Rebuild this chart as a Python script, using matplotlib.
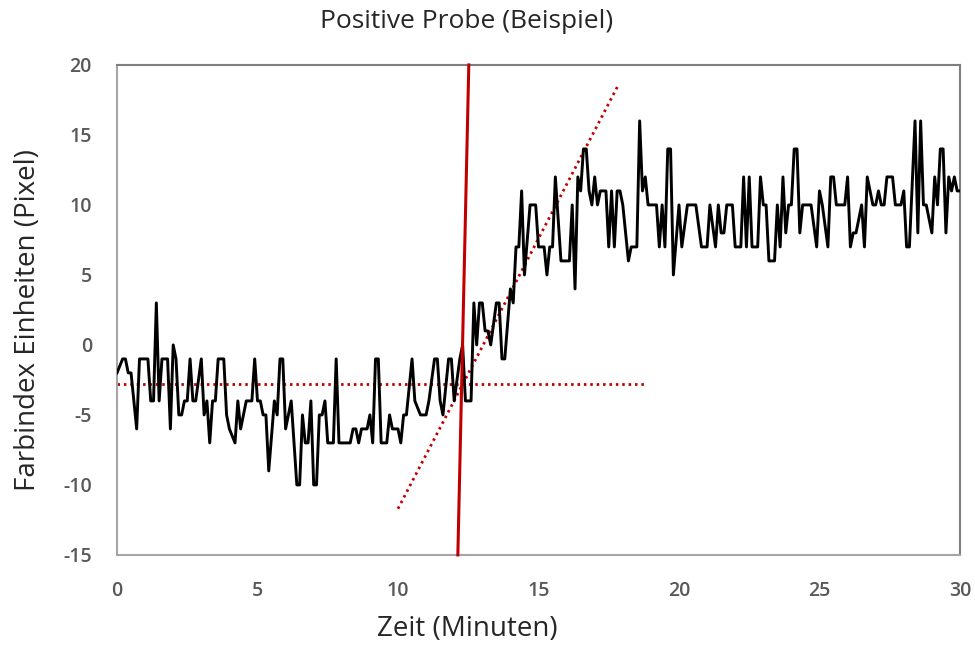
import numpy as np
import matplotlib
matplotlib.use('Agg')
import matplotlib.pyplot as plt

plt.rcParams['font.family'] = ['Open Sans', 'DejaVu Sans']
plt.rcParams['axes.unicode_minus'] = False

zeit = [0.0, 0.2, 0.3, 0.4, 0.5, 0.7, 0.8, 1.1, 1.2, 1.3, 1.4, 1.5, 1.6, 1.8, 1.9, 2.0, 2.1, 2.2, 2.3,
        2.4, 2.5, 2.6, 2.7, 2.8, 3.0, 3.1, 3.2, 3.3, 3.4, 3.5, 3.6, 3.8, 3.9, 4.0, 4.2, 4.3, 4.4, 4.6,
        4.8, 4.9, 5.0,
        5.1, 5.2, 5.3, 5.4, 5.6, 5.7, 5.8, 5.9, 6.0, 6.2, 6.4, 6.5, 6.6, 6.7, 6.8, 6.9, 7.0, 7.1, 7.2,
        7.3, 7.4, 7.5, 7.7, 7.8, 7.9, 8.1, 8.3, 8.4, 8.5, 8.6, 8.7, 8.9, 9.0, 9.1, 9.2, 9.3, 9.4, 9.6,
        9.7, 9.8, 10.0, 10.1,
        10.2, 10.3, 10.5, 10.6, 10.8, 11.0, 11.1, 11.3, 11.4, 11.5, 11.6, 11.8, 11.9, 12.0, 12.2, 12.3,
        12.4, 12.6, 12.7, 12.8, 12.9, 13.0, 13.1, 13.2, 13.3, 13.5, 13.6, 13.7, 13.8, 14.0, 14.1, 14.2,
        14.3, 14.4, 14.5, 14.7, 14.9, 15.0,
        15.1, 15.2, 15.3, 15.4, 15.5, 15.6, 15.8, 15.9, 16.1, 16.2, 16.3, 16.4, 16.5, 16.6, 16.7, 16.8,
        16.9, 17.0, 17.1, 17.2, 17.3, 17.4, 17.5, 17.6, 17.7, 17.8, 17.9, 18.0, 18.2, 18.3, 18.5, 18.6,
        18.7, 18.8, 18.9, 19.2, 19.3, 19.4, 19.5, 19.6, 19.7, 19.8, 20.0,
        20.1, 20.3, 20.6, 20.8, 21.0, 21.1, 21.3, 21.4, 21.5, 21.6, 21.7, 21.9, 22.0, 22.2, 22.3, 22.4,
        22.5, 22.6, 22.8, 22.9, 23.0, 23.1, 23.2, 23.4, 23.5, 23.6, 23.7, 23.8, 23.9, 24.0, 24.1, 24.2,
        24.3, 24.4, 24.7, 24.9, 25.0,
        25.1, 25.3, 25.4, 25.5, 25.6, 25.9, 26.0, 26.1, 26.2, 26.3, 26.5, 26.6, 26.7, 26.9, 27.0, 27.1,
        27.2, 27.3, 27.4, 27.6, 27.7, 27.9, 28.0, 28.1, 28.2, 28.4, 28.5, 28.6, 28.7, 28.8, 29.0, 29.1,
        29.2, 29.3, 29.4, 29.5, 29.6, 29.7, 29.8, 29.9, 30.0]
farbindex = [-2, -1, -1, -2, -2, -6, -1, -1, -4, -4, 3, -4, -1, -1, -6, 0, -1, -5, -5,
             -4, -4, -1, -4, -4, -1, -5, -4, -7, -4, -4, -1, -1, -5, -6, -7, -4, -6, -4,
             -4, -1, -4,
             -4, -5, -5, -9, -4, -5, -1, -1, -6, -4, -10, -10, -5, -7, -7, -4, -10, -10, -5,
             -5, -4, -7, -7, -1, -7, -7, -7, -6, -6, -7, -6, -6, -5, -7, -1, -1, -7, -7,
             -5, -6, -6, -7,
             -5, -5, -1, -4, -5, -5, -4, -1, -1, -4, -5, -1, -1, -4, -1, 0,
             -4, -4, 3, 0, 3, 3, 1, 1, 0, 3, 3, -1, -1, 4, 3, 7,
             7, 11, 5, 10, 10, 7,
             7, 7, 5, 7, 7, 12, 6, 6, 6, 10, 4, 12, 11, 14, 14, 11,
             10, 12, 10, 11, 11, 11, 7, 11, 7, 11, 11, 10, 6, 7, 7, 16,
             11, 12, 10, 10, 7, 10, 7, 14, 14, 5, 10,
             7, 10, 10, 7, 7, 10, 7, 10, 8, 8, 10, 10, 7, 7, 12, 7,
             12, 7, 7, 12, 10, 10, 6, 6, 10, 7, 12, 8, 10, 10, 14, 14,
             8, 10, 10, 7, 11,
             10, 7, 12, 12, 10, 10, 12, 7, 8, 8, 10, 7, 12, 10, 10, 11,
             10, 10, 12, 12, 10, 10, 11, 7, 7, 16, 8, 16, 10, 10, 8, 12,
             10, 14, 14, 8, 12, 11, 12, 11, 11]

# Hilfslinien
basis_x = [0, 18.8]
basis_y = [-2.8, -2.8]
steigung_x = [10.0, 17.85]
steigung_y = [-11.7, 18.6]
schnitt_x = [12.13, 12.52]
schnitt_y = [-15, 20]

rot = '#C00000'
fig = plt.figure(figsize=(9.75, 6.46), dpi=100)
ax = fig.add_axes([0.12, 0.141, 0.8646, 0.7585])

ax.plot(zeit, farbindex, color='black', lw=2.1, zorder=3)
ax.plot(basis_x, basis_y, color=rot, lw=2, ls=(0, (0.9, 1.4)), zorder=2)
ax.plot(steigung_x, steigung_y, color=rot, lw=2, ls=(0, (0.9, 1.4)), zorder=2)
ax.plot(schnitt_x, schnitt_y, color=rot, lw=2.2, zorder=4, clip_on=False)

ax.set_xlim(0, 30)
ax.set_ylim(-15, 20)
ax.set_xticks(np.arange(0, 31, 5))
ax.set_yticks(np.arange(-15, 21, 5))
ax.tick_params(length=0, labelsize=14, labelcolor='#595959')
ax.tick_params(axis='x', pad=19)
ax.tick_params(axis='y', pad=18)
for lab in ax.get_xticklabels() + ax.get_yticklabels():
    lab.set_fontweight('semibold')

for side in ['left', 'bottom']:
    ax.spines[side].set_color('#A6A6A6')
    ax.spines[side].set_linewidth(1.5)
for side in ['top', 'right']:
    ax.spines[side].set_color('#7F7F7F')
    ax.spines[side].set_linewidth(1.5)

fig.text(0.479, 0.966, 'Positive Probe (Beispiel)', ha='center', va='center', fontsize=19, color='#262626')
fig.text(0.479, 0.027, 'Zeit (Minuten)', ha='center', va='center', fontsize=20, color='#262626')
fig.text(0.029, 0.505, 'Farbindex Einheiten (Pixel)', ha='center', va='center', rotation=90,
         fontsize=20, color='#262626')

plt.savefig('out.png', dpi=100)
